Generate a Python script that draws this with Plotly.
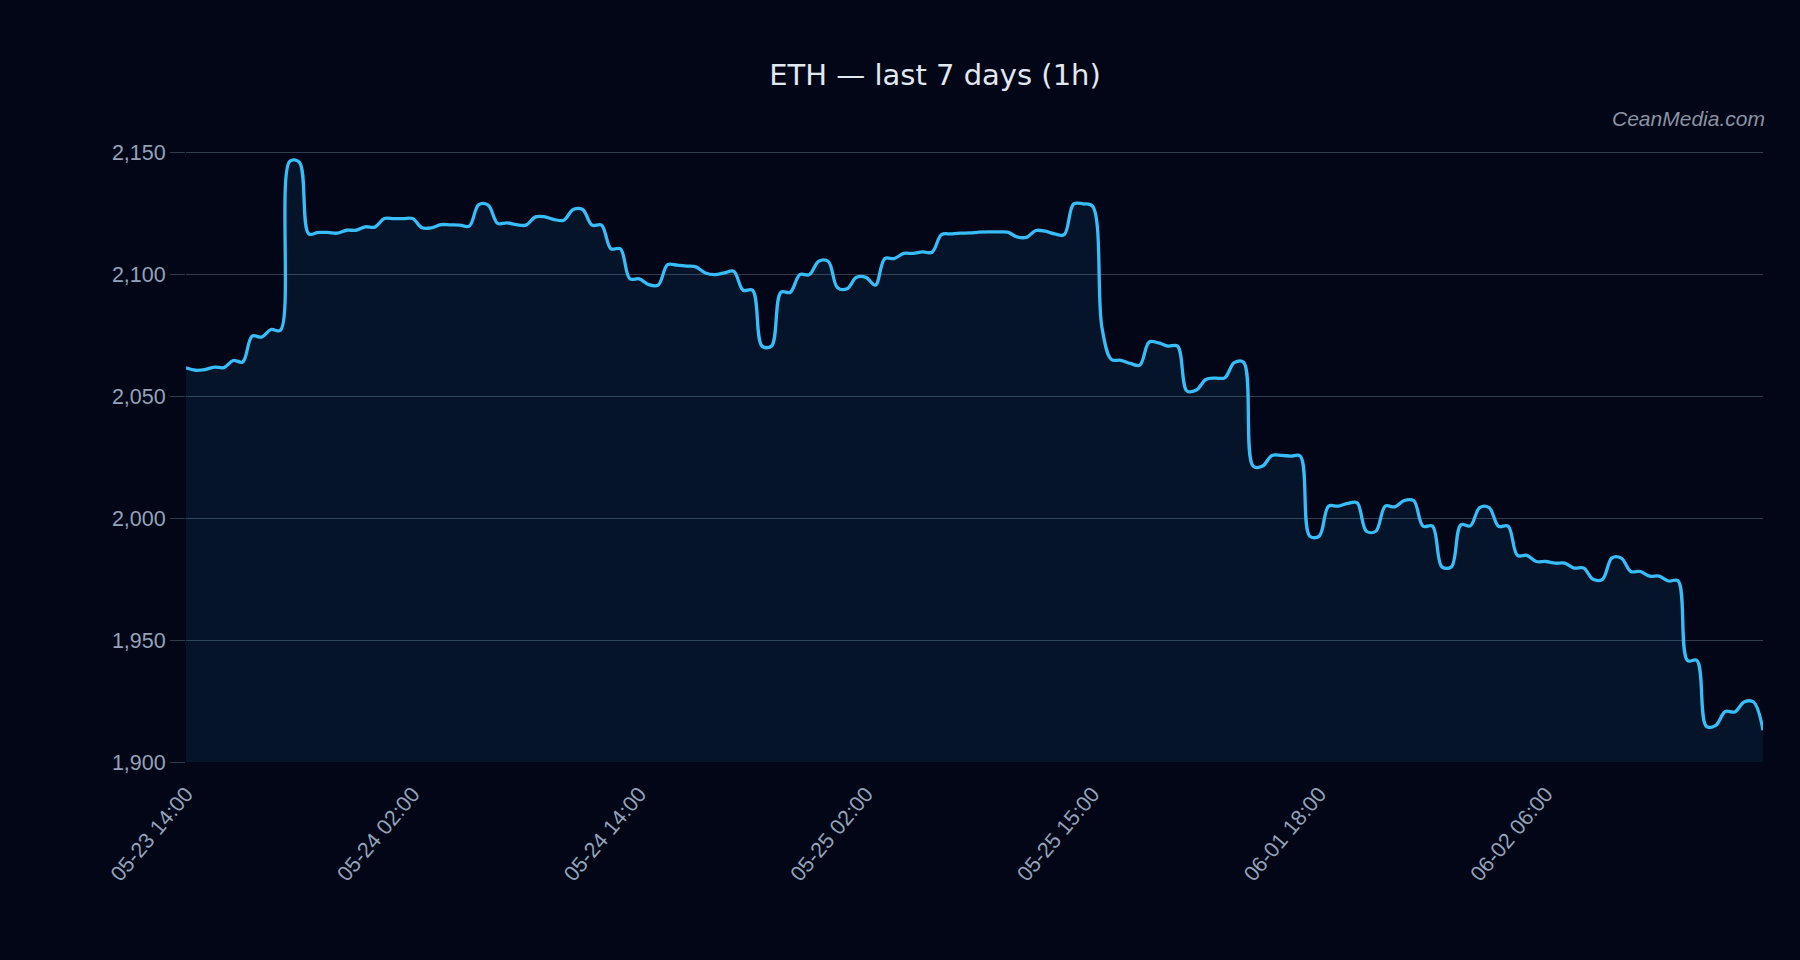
import plotly.graph_objects as go

title_text = "ETH — last 7 days (1h)"
watermark = "CeanMedia.com"

tick_labels = ["05-23 14:00", "05-24 02:00", "05-24 14:00", "05-25 02:00",
               "05-25 15:00", "06-01 18:00", "06-02 06:00"]
tick_every = 24

prices = [
    2061.6, 2060.6, 2060.9, 2061.9, 2061.7, 2064.6, 2064.0, 2074.6, 2074.2, 2077.3,
    2077.0, 2146.3, 2145.9, 2116.5, 2117.1, 2117.1, 2116.8, 2118.0, 2118.0, 2119.4,
    2119.3, 2122.8, 2122.8, 2122.8, 2122.8, 2119.0, 2119.0, 2120.3, 2120.2, 2120.1,
    2119.7, 2128.5, 2128.3, 2120.8, 2121.0, 2120.3, 2120.1, 2123.5, 2123.5, 2122.4,
    2122.1, 2126.5, 2126.5, 2120.1, 2120.1, 2110.4, 2110.4, 2098.1, 2098.1, 2095.7,
    2095.5, 2103.9, 2103.7, 2103.3, 2103.0, 2100.5, 2099.8, 2100.5, 2101.2, 2093.4,
    2093.4, 2070.5, 2070.5, 2092.6, 2092.6, 2099.8, 2099.8, 2105.3, 2105.3, 2094.4,
    2094.0, 2098.7, 2098.7, 2095.5, 2106.4, 2106.4, 2108.5, 2108.5, 2109.1, 2109.0,
    2116.2, 2116.5, 2116.8, 2116.9, 2117.2, 2117.3, 2117.3, 2117.2, 2115.3, 2115.1,
    2117.9, 2117.6, 2116.5, 2116.2, 2128.8, 2128.8, 2127.9, 2078.0, 2065.0, 2064.7,
    2063.4, 2062.7, 2072.2, 2071.8, 2070.5, 2070.5, 2052.1, 2052.5, 2056.8, 2057.4,
    2057.5, 2063.7, 2063.9, 2021.3, 2021.3, 2025.7, 2025.7, 2025.4, 2025.4, 1992.6,
    1992.6, 2004.9, 2004.9, 2006.0, 2006.3, 1994.6, 1994.6, 2004.9, 2004.6, 2007.2,
    2007.2, 1996.7, 1996.7, 1980.0, 1980.0, 1997.2, 1996.8, 2004.3, 2004.3, 1996.6,
    1996.7, 1984.7, 1984.7, 1982.2, 1982.2, 1981.5, 1981.5, 1979.5, 1979.5, 1974.9,
    1974.9, 1983.7, 1983.6, 1978.1, 1978.1, 1976.2, 1976.2, 1974.2, 1974.3, 1941.6,
    1941.6, 1914.6, 1915.0, 1920.7, 1920.5, 1924.6, 1924.6, 1913.0,
]

x_idx = list(range(len(prices)))
tick_vals = [i * tick_every for i in range(len(tick_labels))]

BG = "#020617"
GRID = "#323c4c"
TICKC = "#94a3b8"
FONT = "Liberation Sans, Arial, sans-serif"
TITLE_FONT = "DejaVu Sans, sans-serif"

fig = go.Figure()
fig.add_trace(go.Scatter(
    x=x_idx, y=prices, mode="lines",
    line=dict(color="#38bdf8", width=3.3, shape="spline", smoothing=1.0),
    fill="tozeroy", fillcolor="rgba(56,189,248,0.08)",
    hoverinfo="skip", showlegend=False,
))

fig.update_layout(
    width=1800, height=960,
    paper_bgcolor=BG, plot_bgcolor=BG,
    margin=dict(l=186, r=37, t=100, b=198),
    font=dict(family=FONT, color=TICKC, size=21),
    title=dict(text=title_text, x=935 / 1800, xanchor="center", xref="container",
               y=1 - 75 / 960, yanchor="middle",
               font=dict(family=TITLE_FONT, size=29, color="#e2e8f0")),
    showlegend=False,
)
fig.update_xaxes(
    range=[0, len(prices) - 1], tickmode="array", tickvals=tick_vals, ticktext=tick_labels,
    tickangle=-50, showgrid=False, zeroline=False, showline=False,
    tickfont=dict(size=21.5, color=TICKC), ticks="outside", ticklen=10, tickcolor="rgba(0,0,0,0)",
)
fig.update_yaxes(
    range=[1900, 2171.4], tickvals=[1900, 1950, 2000, 2050, 2100, 2150], tickformat=",d",
    showgrid=True, gridcolor=GRID, gridwidth=1, zeroline=False, showline=False,
    ticks="outside", ticklen=15, tickcolor=GRID, tickfont=dict(size=21.5, color=TICKC),
)
fig.add_annotation(
    text=watermark, xref="paper", yref="paper", x=1.0, y=(762.4 - 119) / 662.4,
    xanchor="right", yanchor="middle", showarrow=False, xshift=4,
    font=dict(family=FONT, size=21, color="#8b93a3", style="italic"),
)

fig.write_html("out.html")
